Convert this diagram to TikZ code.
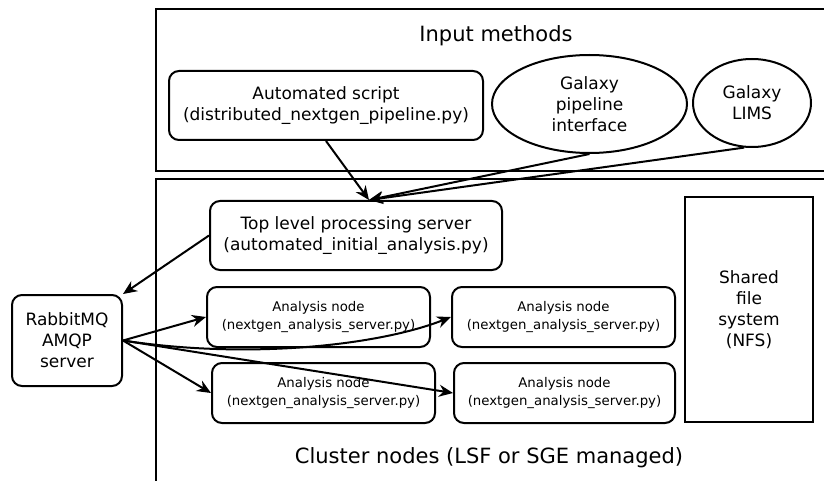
\documentclass[tikz,border=0pt]{standalone}
\usepackage{fontspec}
\setmainfont{DejaVu Sans}
\usetikzlibrary{positioning,arrows.meta,shapes.geometric}

\begin{document}
\begin{tikzpicture}[x=1pt, y=-1pt,
  font=\fontsize{17}{21}\selectfont,
  frame/.style={line width=2pt},
  box/.style={draw, line width=2pt, rounded corners=10pt, align=center, inner sep=2pt},
  oval/.style={draw, ellipse, line width=2pt, align=center, inner sep=0pt},
  worker/.style={box, minimum width=223pt, minimum height=60pt, font=\fontsize{13.3}{17.5}\selectfont},
  title/.style={font=\fontsize{21}{25}\selectfont},
  link/.style={->, line width=2pt},
  >={Stealth[length=14pt,width=12pt]}]
  \useasboundingbox (0,0) rectangle (824,481);
  \draw[frame] (824,9) -- (156,9) -- (156,171) -- (824,171);
  \draw[frame] (824,179) -- (156,179) -- (156,482);
  \node[title] (inp) at (496,36) {Input methods};
  \node[title] (clu) at (489,458) {Cluster nodes (LSF or SGE managed)};
  \node[box, minimum width=314pt, minimum height=69pt] (auto) at (326,105.5) {Automated script\\(distributed\_nextgen\_pipeline.py)};
  \node[oval, minimum width=195pt, minimum height=98pt] (pipe) at (589.5,104) {Galaxy\\pipeline\\interface};
  \node[oval, minimum width=118pt, minimum height=88pt] (lims) at (752,103) {Galaxy\\LIMS};
  \node[box, minimum width=292pt, minimum height=69pt] (top) at (356,235.5) {Top level processing server\\(automated\_initial\_analysis.py)};
  \node[box, minimum width=110pt, minimum height=91pt] (mq) at (67,340.5) {RabbitMQ\\AMQP\\server};
  \node[worker] (a1) at (318.5,317) {Analysis node\\(nextgen\_analysis\_server.py)};
  \node[worker] (a2) at (323.5,393) {Analysis node\\(nextgen\_analysis\_server.py)};
  \node[worker, right=20pt of a1] (a3) {Analysis node\\(nextgen\_analysis\_server.py)};
  \node[worker, right=17pt of a2, minimum width=221pt] (a4) {Analysis node\\(nextgen\_analysis\_server.py)};
  \node[draw, line width=2pt, minimum width=128pt, minimum height=225pt, align=center] (nfs) at (749,309.5) {Shared\\file\\system\\(NFS)};
  \coordinate (hit) at ([xshift=13pt]top.north);
  \draw[link] (auto.south) -- (hit);
  \draw[link] (pipe.south) -- (hit);
  \draw[link] (lims.-100) -- (hit);
  \draw[link] (top.west) -- (mq.north east);
  \draw[link] (mq.east) -- (a1.west);
  \draw[link] (mq.east) -- (a2.west);
  \draw[link] (mq.east) .. controls (250,360) and (380,345) .. (a3.west);
  \draw[link] (mq.east) -- (a4.west);
\end{tikzpicture}
\end{document}
